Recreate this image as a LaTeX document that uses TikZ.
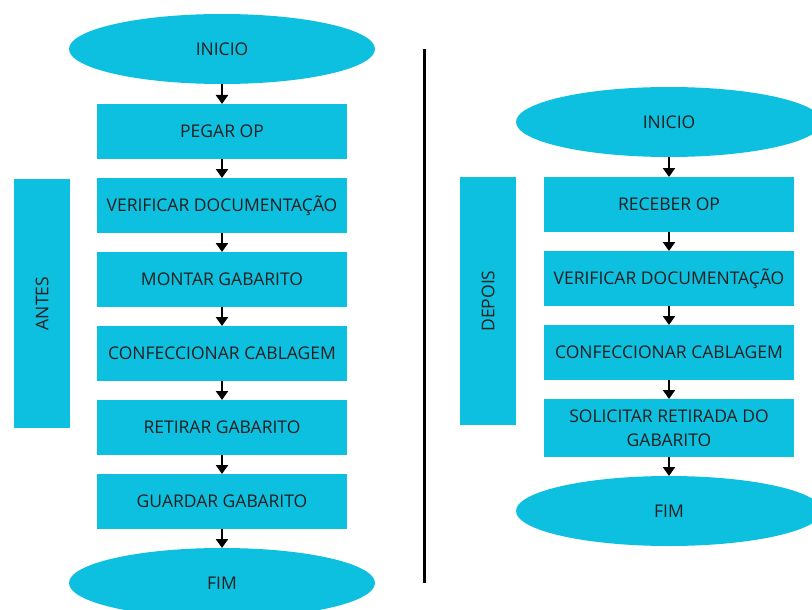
\documentclass[tikz,border=0pt]{standalone}
\usepackage{fontspec}
\setmainfont{Open Sans}
\usetikzlibrary{shapes.geometric,positioning,arrows.meta}
\definecolor{caixa}{RGB}{14,192,224}
\begin{document}
\begin{tikzpicture}[x=1pt,y=-1pt]
	\tikzstyle{every node}+=[inner sep=0pt, outer sep=0pt, text=black!88, font=\fontsize{17.5}{24}\selectfont]
	\tikzstyle{terminal}=[ellipse, fill=caixa, minimum width=306pt, minimum height=70pt]
	\tikzstyle{passo}=[rectangle, fill=caixa, minimum width=250pt, minimum height=55pt, align=center]
	\tikzstyle{fase}=[rectangle, fill=caixa, minimum height=56pt, rotate=90]
	\tikzstyle{seta}=[draw=black, line width=2.2pt, -{Triangle[width=12pt,length=9pt]}]
	\useasboundingbox (0,0) rectangle (812,610);
	\clip (0,0) rectangle (812,610);
	% antes
	\node [terminal] (ini1) at (222,49) {INICIO};
	\node [passo, below=20pt of ini1] (pegar) {PEGAR OP};
	\node [passo, below=19pt of pegar] (verif1) {VERIFICAR DOCUMENTAÇÃO};
	\node [passo, below=19pt of verif1] (montar) {MONTAR GABARITO};
	\node [passo, below=19pt of montar] (conf1) {CONFECCIONAR CABLAGEM};
	\node [passo, below=19pt of conf1] (retirar) {RETIRAR GABARITO};
	\node [passo, below=19pt of retirar] (guardar) {GUARDAR GABARITO};
	\node [terminal, below=19pt of guardar] (fim1) {FIM};
	\node [fase, minimum width=249pt] (antes) at (42,303.5) {ANTES};
	\draw [seta] (ini1) -- (pegar);
	\draw [seta] (pegar) -- (verif1);
	\draw [seta] (verif1) -- (montar);
	\draw [seta] (montar) -- (conf1);
	\draw [seta] (conf1) -- (retirar);
	\draw [seta] (retirar) -- (guardar);
	\draw [seta] (guardar) -- (fim1);
	% divisao
	\coordinate (topo) at (424,49);
	\coordinate (base) at (424,583);
	\draw [line width=3pt] (topo) -- (base);
	% depois
	\node [terminal] (ini2) at (669,122) {INICIO};
	\node [passo, below=20pt of ini2] (receber) {RECEBER OP};
	\node [passo, below=19pt of receber] (verif2) {VERIFICAR DOCUMENTAÇÃO};
	\node [passo, below=19pt of verif2] (conf2) {CONFECCIONAR CABLAGEM};
	\node [passo, below=19pt of conf2, minimum height=58pt] (solicitar) {SOLICITAR RETIRADA DO\\GABARITO};
	\node [terminal, below=19pt of solicitar] (fim2) {FIM};
	\node [fase, minimum width=248pt] (depois) at (488,301) {DEPOIS};
	\draw [seta] (ini2) -- (receber);
	\draw [seta] (receber) -- (verif2);
	\draw [seta] (verif2) -- (conf2);
	\draw [seta] (conf2) -- (solicitar);
	\draw [seta] (solicitar) -- (fim2);
\end{tikzpicture}
\end{document}
